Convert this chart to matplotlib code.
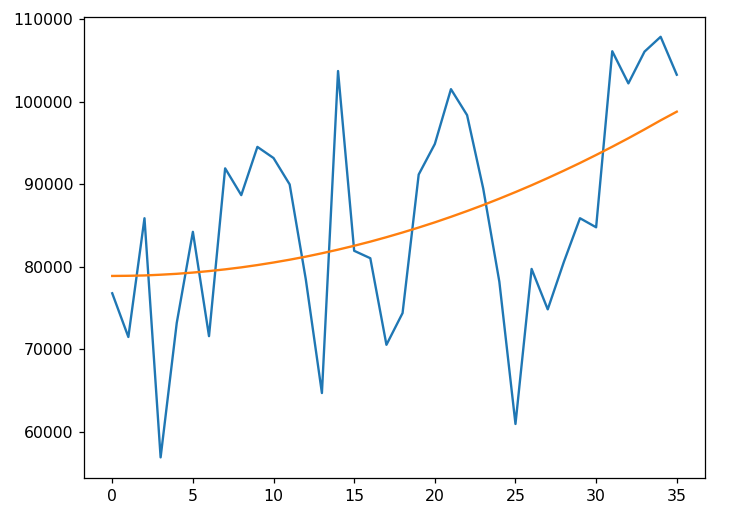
import matplotlib
matplotlib.use('Agg')
import matplotlib.pyplot as plt
import numpy as np

x = list(range(36))

values = [76800, 71500, 85900, 56900, 73200, 84250, 71600, 91950, 88700, 94550,
          93200, 90000, 78500, 64700, 103750, 81950, 81050, 70550, 74400, 91200,
          94900, 101550, 98400, 89500, 78200, 60950, 79750, 74850, 80600, 85900,
          84800, 106150, 102250, 106100, 107900, 103300]

trend = [78900, 78920, 78960, 79050, 79160, 79310, 79490, 79700, 79940, 80220,
         80530, 80870, 81240, 81650, 82090, 82560, 83060, 83600, 84170, 84770,
         85400, 86070, 86770, 87500, 88270, 89070, 89900, 90770, 91670, 92600,
         93570, 94570, 95600, 96670, 97770, 98820]

def main():
    dpi = 113
    fig, ax = plt.subplots(figsize=(729 / dpi, 512 / dpi), dpi=dpi)
    fig.subplots_adjust(left=84 / 729, right=705 / 729, top=1 - 17 / 512, bottom=1 - 478 / 512)

    ax.plot(x, values)
    ax.plot(x, trend)

    ax.set_xticks([0, 5, 10, 15, 20, 25, 30, 35])
    ax.set_yticks([60000, 70000, 80000, 90000, 100000, 110000])
    ax.set_ylim(54400, 110300)

    plt.savefig('out.png', dpi=dpi)

if __name__ == '__main__':
    main()
